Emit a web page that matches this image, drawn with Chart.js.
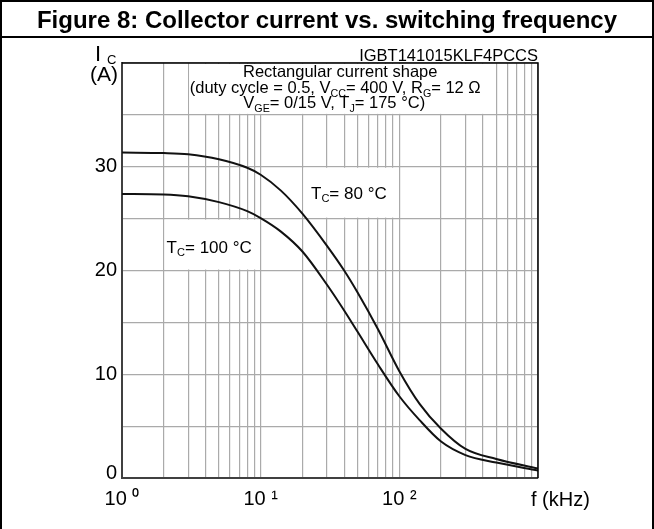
<!DOCTYPE html>
<html>
<head>
<meta charset="utf-8">
<script src="https://cdn.jsdelivr.net/npm/chart.js@4.4.1/dist/chart.umd.min.js"></script>
<style>
  html, body { margin: 0; padding: 0; background: #fff; }
  #wrap { width: 654px; height: 529px; }
</style>
</head>
<body>
<div id="wrap"><canvas id="mycanvas" width="654" height="529"></canvas></div>
<script>
// values
var freqTicks = [1,2,3,4,5,6,7,8,9,10,20,30,40,50,60,70,80,90,100,200,300,400,500,600,700,800,900,1000];
var xLabelValues = [1, 10, 100];
var xLabelText = ['10 \u2070', '10 \u00b9', '10 \u00b2'];
var yTicks = [0,5,10,15,20,25,30,35,40];
var yLabels = [10,20,30];

var freq80 = [1, 2, 3, 5, 8, 10, 14, 20, 30, 40, 50, 70, 100, 140, 200, 300, 500, 1000];
var current80 = [31.37, 31.32, 31.2, 30.72, 29.9, 29.23, 27.7, 25.48, 22.4, 20.0, 17.88, 14.37, 10.3, 7.15, 4.75, 2.8, 1.83, 0.91];
var freq100 = [1, 2, 3, 5, 8, 10, 14, 20, 30, 40, 50, 70, 100, 140, 200, 300, 500, 1000];
var current100 = [27.37, 27.33, 27.16, 26.59, 25.72, 25.05, 23.75, 21.83, 18.65, 16.15, 14.09, 10.96, 7.88, 5.58, 3.51, 2.21, 1.49, 0.72];

var FONT = '"Liberation Sans", Arial, Helvetica, sans-serif';

function toPoints(xs, ys) {
  var pts = [];
  for (var i in xs) {
    pts.push({x: xs[i], y: ys[i]});
  }
  return pts;
}

// text with subscripts: parts = [[text, isSub], ...]
function drawRuns(ctx, parts, cx, y, size) {
  var w = 0;
  parts.forEach(function (p) {
    ctx.font = (p[1] ? size * 0.65 : size) + 'px ' + FONT;
    w += ctx.measureText(p[0]).width;
  });
  var x = cx - w / 2;
  ctx.textAlign = 'left';
  ctx.textBaseline = 'alphabetic';
  parts.forEach(function (p) {
    ctx.font = (p[1] ? size * 0.65 : size) + 'px ' + FONT;
    ctx.fillText(p[0], x, y + (p[1] ? size * 0.22 : 0));
    x += ctx.measureText(p[0]).width;
  });
}

var figurePlugin = {
  id: 'figure',
  beforeDatasetsDraw: function (chart) {
    var ctx = chart.ctx, xs = chart.scales.x, ys = chart.scales.y;
    function cell(f1, f2, a1, a2) {
      var l = xs.getPixelForValue(f1), r = xs.getPixelForValue(f2);
      var t = ys.getPixelForValue(a2), b = ys.getPixelForValue(a1);
      ctx.fillStyle = '#fff';
      ctx.fillRect(l + 1, t + 1, r - l - 2, b - t - 2);
      return {cx: (l + r) / 2, t: t, b: b};
    }
    ctx.save();
    var c1 = cell(3, 500, 35, 40);
    ctx.fillStyle = '#000';
    drawRuns(ctx, [['Rectangular current shape']], c1.cx - 2, c1.t + 14, 16.5);
    drawRuns(ctx, [['(duty cycle = 0.5, V'], ['CC', 1], ['= 400 V, R'], ['G', 1], ['= 12 \u03a9']], c1.cx - 7, c1.t + 30, 16.5);
    drawRuns(ctx, [['V'], ['GE', 1], ['= 0/15 V, T'], ['J', 1], ['= 175 \u00b0C)']], c1.cx - 8, c1.t + 45, 16.5);

    var c2 = cell(20, 100, 25, 30);
    ctx.fillStyle = '#000';
    drawRuns(ctx, [['T'], ['C', 1], ['= 80 \u00b0C']], c2.cx - 2, c2.t + 32, 17);

    var c3 = cell(2, 10, 20, 25);
    ctx.fillStyle = '#000';
    drawRuns(ctx, [['T'], ['C', 1], ['= 100 \u00b0C']], c3.cx - 3, c3.t + 34, 17);
    ctx.restore();
  },
  afterDraw: function (chart) {
    var ctx = chart.ctx, a = chart.chartArea;
    var W = chart.width, H = chart.height;
    ctx.save();
    // outer frame and title row
    ctx.strokeStyle = '#000';
    ctx.lineWidth = 2;
    ctx.strokeRect(1, 1, W - 2, H + 5);
    ctx.beginPath();
    ctx.moveTo(0, 37);
    ctx.lineTo(W, 37);
    ctx.stroke();
    ctx.fillStyle = '#000';
    ctx.font = 'bold 24px ' + FONT;
    ctx.textAlign = 'center';
    ctx.textBaseline = 'alphabetic';
    ctx.fillText('Figure 8: Collector current vs. switching frequency', W / 2 + 0, 28);

    // top and right plot border
    ctx.lineWidth = 1.5;
    ctx.beginPath();
    ctx.moveTo(a.left, a.top);
    ctx.lineTo(a.right, a.top);
    ctx.lineTo(a.right, a.bottom);
    ctx.stroke();

    // part number
    ctx.font = '16.5px ' + FONT;
    ctx.textAlign = 'right';
    ctx.fillText('IGBT141015KLF4PCCS', a.right, a.top - 2);

    // y axis title
    ctx.font = '22px ' + FONT;
    ctx.textAlign = 'left';
    ctx.fillText('I', 95, 61);
    ctx.font = '13px ' + FONT;
    ctx.fillText('C', 107, 64);
    ctx.font = '21px ' + FONT;
    ctx.textAlign = 'right';
    ctx.fillText('(A)', 118, 81);

    // origin label sits on the axis line, like the datasheet
    ctx.font = '20px ' + FONT;
    ctx.fillText('0', a.left - 5, chart.scales.y.getPixelForValue(0) + 1);

    // x axis unit
    ctx.textAlign = 'left';
    ctx.fillText('f (kHz)', chart.scales.x.getPixelForValue(1000) - 7, 506);
    ctx.restore();
  }
};

var ctx1 = document.getElementById('mycanvas');
var chart = new Chart(ctx1, {
  type: 'line',
  data: {
    datasets: [
      {
        label: 'TC = 80 \u00b0C',
        data: toPoints(freq80, current80),
        borderColor: '#111',
        borderWidth: 2,
        pointRadius: 0,
        fill: false,
        cubicInterpolationMode: 'monotone'
      },
      {
        label: 'TC = 100 \u00b0C',
        data: toPoints(freq100, current100),
        borderColor: '#111',
        borderWidth: 2,
        pointRadius: 0,
        fill: false,
        cubicInterpolationMode: 'monotone'
      }
    ]
  },
  options: {
    responsive: false,
    animation: false,
    events: [],
    layout: { padding: { left: 62, right: 116, top: 63, bottom: 11 } },
    plugins: { legend: { display: false }, tooltip: { enabled: false } },
    scales: {
      x: {
        type: 'logarithmic',
        min: 1,
        max: 1000,
        afterBuildTicks: function (scale) {
          scale.ticks = freqTicks.map(function (v) { return {value: v}; });
        },
        afterFit: function (scale) { scale.height = 40; },
        grid: { color: '#aaaaaa', lineWidth: 1.2, drawTicks: false },
        border: { color: '#404040', width: 2 },
        ticks: {
          autoSkip: false,
          maxRotation: 0,
          padding: 9,
          color: '#000',
          font: { family: FONT, size: 20 },
          callback: function (v) {
            var k = xLabelValues.indexOf(v);
            return k >= 0 ? xLabelText[k] : '';
          }
        }
      },
      y: {
        min: 0,
        max: 40,
        afterBuildTicks: function (scale) {
          scale.ticks = yTicks.map(function (v) { return {value: v}; });
        },
        afterFit: function (scale) { scale.width = 60; },
        grid: { color: '#aaaaaa', lineWidth: 1.2, drawTicks: false },
        border: { color: '#404040', width: 2 },
        ticks: {
          padding: 5,
          color: '#000',
          font: { family: FONT, size: 20 },
          callback: function (v) {
            return yLabels.indexOf(v) >= 0 ? String(v) : '';
          }
        }
      }
    }
  },
  plugins: [figurePlugin]
});
</script>
</body>
</html>
